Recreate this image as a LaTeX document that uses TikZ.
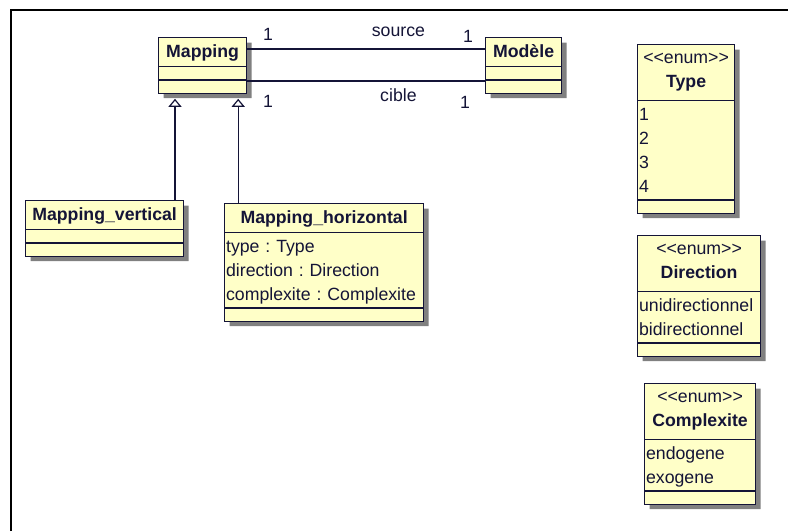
\documentclass[tikz,border=0pt]{standalone}
\usepackage{fontspec}
\newfontfamily\umlfont{Liberation Sans}
\usetikzlibrary{shapes.multipart,shadows,arrows.meta}

\definecolor{umlfill}{RGB}{255,255,200}
\definecolor{umlink}{RGB}{20,20,55}

\newcommand{\nameline}[1]{\centering\rule[-7.5pt]{0pt}{26pt}\textbf{#1}\par}
\newcommand{\enumhead}[1]{\centering\rule[-7pt]{0pt}{24pt}<<enum>>\par\rule[-12pt]{0pt}{29pt}\textbf{#1}\par}
\newcommand{\attrline}[1]{\raggedright\rule[-6pt]{0pt}{24pt}#1\par}
\newcommand{\emptyline}{\rule{0pt}{10pt}}

\begin{document}
\begin{tikzpicture}[x=1pt, y=-1pt,
	umlclass/.style={rectangle split, rectangle split parts=3, draw=umlink, line width=1.2pt,
		fill=umlfill, text=umlink, inner xsep=1.5pt, inner ysep=1pt, align=left, anchor=north west,
		font=\umlfont\frenchspacing\fontsize{17.7pt}{24pt}\selectfont,
		drop shadow={shadow xshift=5pt, shadow yshift=-5pt, fill=black!50, opacity=1}},
	assoc/.style={draw=umlink, line width=1.2pt},
	mult/.style={anchor=base, inner sep=0pt, text=umlink, font=\umlfont\fontsize{17.7pt}{24pt}\selectfont},
	generalize/.style={draw=umlink, line width=1.2pt, -{Triangle[open, width=13pt, length=8pt]}}]

	\useasboundingbox (0,0) rectangle (788,531);
	\draw [line width=2pt] (11,531) -- (11,10) -- (788,10);

	\node [umlclass, text width=85pt] (mapping) at (158,37)
		{\nameline{Mapping}\nodepart{two}\emptyline\nodepart{three}\emptyline};
	\node [umlclass, text width=73pt] (modele) at (485,37)
		{\nameline{Modèle}\nodepart{two}\emptyline\nodepart{three}\emptyline};
	\node [umlclass, text width=155pt] (mapvert) at (25,200)
		{\nameline{Mapping\_vertical}\nodepart{two}\emptyline\nodepart{three}\emptyline};
	\node [umlclass, text width=196pt] (maphoriz) at (224,203)
		{\nameline{Mapping\_horizontal}\nodepart{two}\attrline{type : Type}\attrline{direction : Direction}\attrline{complexite : Complexite}\nodepart{three}\emptyline};

	\node [umlclass, text width=94pt] (type) at (637,44)
		{\enumhead{Type}\nodepart{two}\attrline{1}\attrline{2}\attrline{3}\attrline{4}\nodepart{three}\emptyline};
	\node [umlclass, text width=120pt] (direction) at (637,235)
		{\enumhead{Direction}\nodepart{two}\attrline{unidirectionnel}\attrline{bidirectionnel}\nodepart{three}\emptyline};
	\node [umlclass, text width=108pt] (complexite) at (644,383)
		{\enumhead{Complexite}\nodepart{two}\attrline{endogene}\attrline{exogene}\nodepart{three}\emptyline};

	\draw [assoc] ([yshift=-12pt]mapping.north east) -- ([yshift=-12pt]modele.north west)
		node [mult, pos=.088, yshift=9pt] {1}
		node [mult, pos=.636, yshift=12.5pt] {source}
		node [mult, pos=.929, yshift=6.5pt] {1};
	\draw [assoc] ([yshift=-44pt]mapping.north east) -- ([yshift=-44pt]modele.north west)
		node [mult, pos=.088, yshift=-26pt] {1}
		node [mult, pos=.636, yshift=-20.5pt] {cible}
		node [mult, pos=.916, yshift=-27pt] {1};

	\coordinate (gv) at ([xshift=17pt]mapping.south west);
	\coordinate (gh) at ([xshift=-9pt]mapping.south east);
	\draw [generalize] (mapvert.north -| gv) -- ([yshift=-5pt]gv);
	\draw [generalize] (maphoriz.north -| gh) -- ([yshift=-5pt]gh);

\end{tikzpicture}
\end{document}
